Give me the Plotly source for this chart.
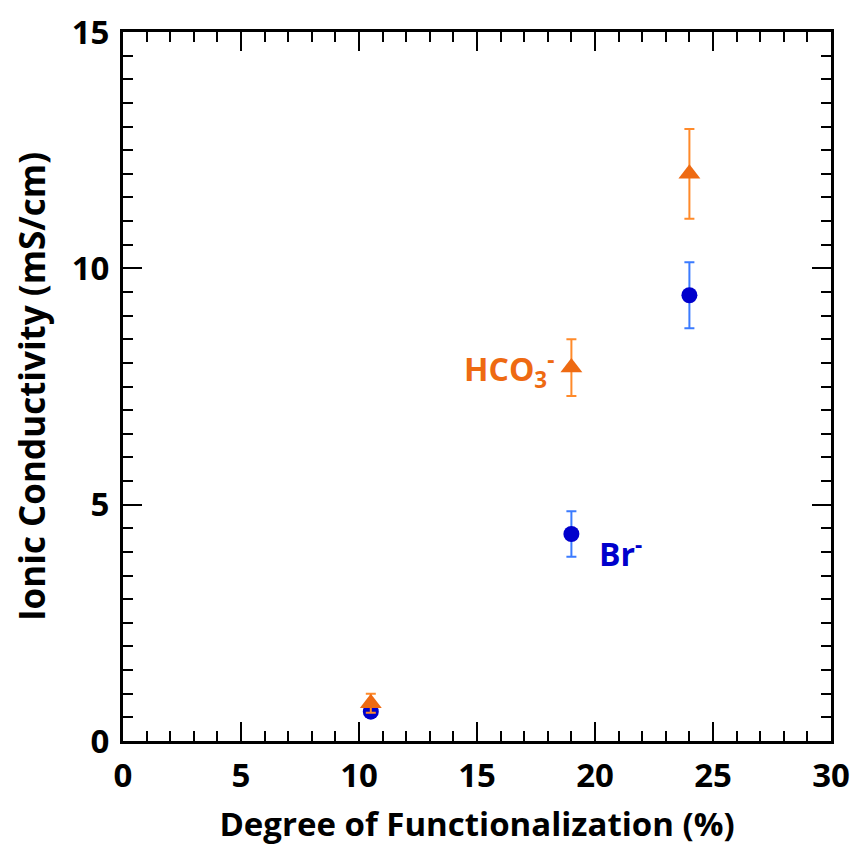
import plotly.graph_objects as go

dof = [10.5, 19.0, 24.0]
br_vals = [0.62, 4.38, 9.43]
br_err = [0.1, 0.48, 0.7]
hco3_vals = [0.8, 7.9, 12.0]
hco3_err = [0.2, 0.6, 0.95]

ORANGE = "#EE6A12"
ORANGE_ERR = "#FF8A2A"
BLUE = "#0000CC"
BLUE_ERR = "#3B7BFF"
FONT = "Open Sans"

fig = go.Figure()
fig.add_trace(go.Scatter(
    x=dof, y=br_vals, mode="markers",
    marker=dict(symbol="circle", size=16, color=BLUE),
    error_y=dict(type="data", array=br_err, color=BLUE_ERR, thickness=2, width=5),
    showlegend=False))
fig.add_trace(go.Scatter(
    x=dof, y=hco3_vals, mode="markers",
    marker=dict(symbol="triangle-up", size=19, color=ORANGE),
    error_y=dict(type="data", array=hco3_err, color=ORANGE_ERR, thickness=2, width=5),
    showlegend=False))

fig.add_annotation(x=18.35, y=7.85, xref="x", yref="y", text="<b>HCO<sub>3</sub><sup>-</sup></b>",
                   showarrow=False, xanchor="right", yanchor="middle",
                   font=dict(family=FONT, size=32, color=ORANGE))
fig.add_annotation(x=20.1, y=4.0, xref="x", yref="y", text="<b>Br<sup>-</sup></b>",
                   showarrow=False, xanchor="left", yanchor="middle",
                   font=dict(family=FONT, size=32, color=BLUE))

axis_common = dict(
    showgrid=False, zeroline=False, showline=True, linecolor="black", linewidth=3,
    mirror="ticks", ticks="inside", ticklen=19, tickwidth=2, tickcolor="black",
    tickfont=dict(family=FONT, size=33, color="black"), automargin=False,
)
fig.update_xaxes(range=[0, 30], dtick=5, tick0=0,
                 minor=dict(dtick=1, ticks="inside", ticklen=10, tickwidth=2, tickcolor="black"),
                 title=dict(text="<b>Degree of Functionalization (%)</b>",
                            font=dict(family=FONT, size=33, color="black"), standoff=20),
                 tickprefix="<b>", ticksuffix="</b>", ticklabelstandoff=3,
                 **axis_common)
fig.update_yaxes(range=[0, 15], dtick=5, tick0=0,
                 minor=dict(dtick=0.5, ticks="inside", ticklen=10, tickwidth=2, tickcolor="black"),
                 title=dict(text="<b>Ionic Conductivity (mS/cm)</b>",
                            font=dict(family=FONT, size=35, color="black"), standoff=16),
                 tickprefix="<b>", ticksuffix="</b>", ticklabelstandoff=4,
                 **axis_common)

fig.update_layout(
    width=857, height=846,
    margin=dict(l=123, r=26, t=32, b=105),
    plot_bgcolor="white", paper_bgcolor="white",
)
fig.write_html("out.html")
